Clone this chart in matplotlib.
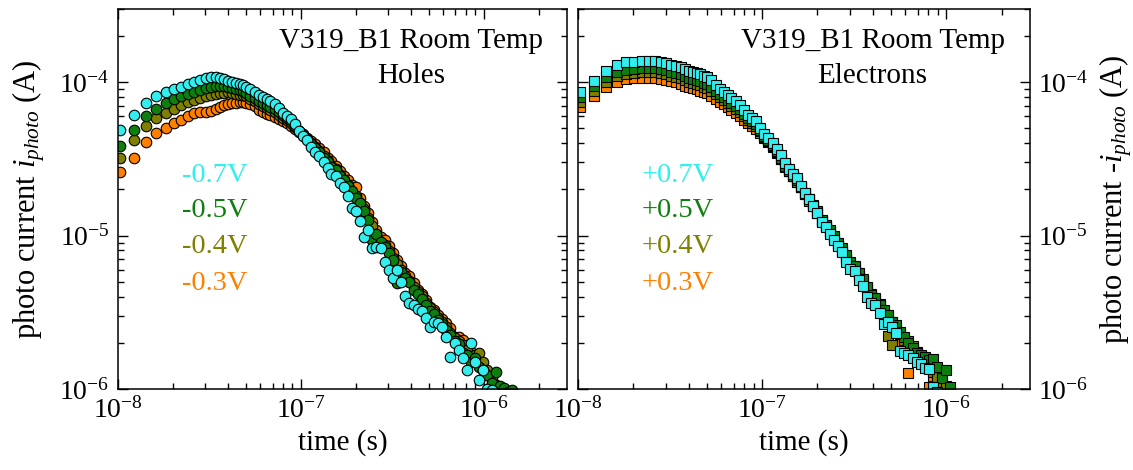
"""Transient photocurrent of V319_B1 at room temperature: holes vs electrons."""

import matplotlib

matplotlib.use("Agg")
import matplotlib.pyplot as plt
import numpy as np
from matplotlib.ticker import FuncFormatter, LogLocator, NullFormatter

plt.rcParams["font.family"] = ["Liberation Serif", "DejaVu Serif"]
plt.rcParams["mathtext.fontset"] = "custom"
plt.rcParams["mathtext.rm"] = "Liberation Serif"
plt.rcParams["mathtext.it"] = "Liberation Serif:italic"
plt.rcParams["axes.unicode_minus"] = False

# sample times (ns), shared by both panels
TIME_NS = [
    10.2, 12.2, 14.2, 16.2, 18.2, 20.2, 22.2, 24.2, 26.2, 28.2,
    30.2, 32.2, 34.2, 36.2, 38.2, 40.2, 42.2, 44.2, 46.2, 48.2,
    50.2, 53, 56, 59, 62, 65, 68, 72, 76, 80,
    84, 88, 93, 98, 103, 108, 114, 120, 126, 133,
    140, 147, 155, 163, 172, 181, 190, 200, 211, 222,
    234, 246, 259, 273, 287, 302, 318, 335, 353, 372,
    392, 413, 435, 458, 482, 508, 535, 563, 593, 624,
    657, 692, 729, 768, 809, 852, 897, 945, 995, 1048,
    1104, 1163, 1225, 1290, 1358, 1430,
]

# photo current (uA), holes, negative bias
HOLES_07 = [
    48.6, 60.8, 72.9, 81.0, 86.0, 90.0, 92.8, 97.0, 100, 103.1,
    106.2, 107.8, 107.8, 106.2, 104.6, 101.5, 100, 98.5, 97.0, 95.6,
    92.8, 90.0, 86.0, 82.2, 79.8, 77.4, 75.1, 71.8, 67.6, 62.7,
    59.9, 57.3, 53.2, 47.8, 44.4, 41.8, 37.6, 34.9, 32.8, 30.0,
    27.6, 25.4, 24.3, 22.1, 20.6, 18.2, 15.2, 14.4, 12.5, 9.85,
    10.9, 8.35, 8.47, 8.35, 6.76, 6.00, 5.31, 6.00, 5.00, 4.05,
    3.65, 3.54, 3.33, 3.22, 2.91, 2.54, 2.74, 2.70, 2.54, 2.19,
    1.62, 2.00, 1.80, 1.59, 1.33, 2.00, 1.50, 1.15, 1.33, 1.00,
    0.99,
]
HOLES_05 = [
    38.2, 48.6, 59.9, 66.6, 72.9, 77.4, 81.0, 83.5, 86.0, 88.6,
    91.4, 92.8, 94.2, 94.2, 94.2, 92.8, 91.4, 90.0, 88.6, 87.3,
    84.8, 81.0, 78.6, 75.1, 72.9, 70.7, 68.6, 66.6, 63.7, 60.8,
    58.2, 55.6, 51.6, 47.8, 45.0, 42.5, 39.3, 37.0, 34.9, 32.3,
    30.0, 28.2, 26.6, 24.6, 22.9, 21.2, 19.4, 17.7, 16.2, 14.4,
    12.7, 9.42, 10.3, 9.14, 8.47, 7.7, 6.97, 4.9, 5.82, 5.31,
    5.0, 4.44, 4.18, 3.88, 3.54, 3.22, 3.1, 2.82, 2.66, 2.43,
    2.25, 2.05, 1.97, 1.72, 1.67, 1.50, 1.59, 1.39, 1.33, 1.23,
    1.09, 1.29, 1.05, 1.02, 0.96, 0.99,
]
HOLES_04 = [
    32.3, 41.8, 51.6, 58.2, 62.7, 66.6, 70.7, 74.0, 76.3, 78.6,
    81.0, 82.2, 83.5, 84.8, 84.8, 86.0, 84.8, 83.5, 82.2, 82.2,
    81.0, 77.4, 75.1, 71.8, 69.7, 67.6, 65.6, 63.7, 60.8, 58.2,
    56.4, 54.0, 50.8, 47.8, 45.0, 42.5, 39.9, 37.6, 35.5, 32.8,
    30.5, 28.6, 27.0, 25.0, 23.2, 21.5, 18.5, 18.2, 16.4, 14.8,
    13.1, 11.6, 10.2, 8.47, 8.73, 7.98, 7.2, 6.55, 6.0, 5.45,
    5.08, 4.64, 4.31, 4.05, 3.65, 3.38, 3.18, 2.91, 2.74, 2.54,
    2.32, 2.14, 2.05, 1.94, 1.80, 1.64, 1.67, 1.72, 1.50, 1.33,
    1.20, 1.06, 0.96,
]
HOLES_03 = [
    25.8, 32.3, 40.5, 46.4, 50.4, 54.4, 56.9, 59.9, 62.7, 63.7,
    63.7, 64.6, 66.6, 68.6, 70.7, 71.8, 72.9, 72.9, 74.0, 74.0,
    72.9, 71.8, 69.7, 65.6, 63.7, 61.8, 60.8, 59.0, 57.3, 55.6,
    54.0, 51.6, 49.3, 47.1, 45.7, 43.1, 41.2, 39.3, 37.0, 34.9,
    32.3, 30.5, 28.6, 26.2, 24.3, 22.9, 21.5, 20.6, 17.7, 15.5,
    14.0, 12.3, 10.9, 9.85, 9.3, 8.6, 7.7, 6.97, 6.3, 5.7,
    5.45, 4.9, 4.44, 4.18, 3.82, 3.44, 3.28, 3.05, 2.86, 2.70,
    2.5, 2.19, 2.19, 2.09, 1.94, 1.74, 1.59, 1.50, 1.37, 1.29,
    1.15, 1.05, 0.96,
]

# minus photo current (uA), electrons, positive bias
ELECTRONS_07 = [
    86.0, 101.5, 118.0, 129.1, 135.1, 135.1, 137.2, 137.2, 137.2, 135.1,
    133.1, 129.1, 127.2, 125.3, 121.6, 118.0, 116.3, 114.5, 112.8, 109.4,
    107.8, 103.1, 95.6, 90.0, 86.0, 82.2, 78.6, 75.1, 70.7, 65.6,
    60.8, 58.2, 55.6, 50.0, 45.7, 43.1, 39.9, 36.5, 33.3, 29.6,
    27.0, 25.4, 23.6, 21.2, 19.1, 17.2, 15.7, 14.0, 12.3, 11.3,
    10.2, 9.42, 8.6, 7.86, 6.76, 6.09, 5.91, 5.16, 4.71, 3.99,
    3.65, 3.54, 3.14, 2.66, 2.74, 2.54, 2.32, 1.77, 1.72, 1.67,
    1.59, 1.50, 1.46, 1.37, 1.35, 1.03, 0.96,
]
ELECTRONS_05 = [
    79.8, 94.2, 107.8, 116.3, 119.8, 121.6, 123.5, 123.5, 123.5, 121.6,
    119.8, 116.3, 114.5, 112.8, 109.4, 106.2, 104.6, 103.1, 101.5, 98.5,
    97.0, 92.8, 87.3, 83.5, 79.8, 76.3, 72.9, 69.7, 66.6, 61.8,
    58.2, 55.6, 53.2, 48.6, 44.4, 41.8, 38.7, 35.5, 32.3, 28.6,
    26.2, 24.6, 22.9, 20.9, 19.1, 17.4, 15.9, 14.4, 12.7, 11.8,
    10.9, 10.0, 9.0, 8.35, 7.51, 6.76, 6.35, 5.73, 5.23, 4.64,
    4.12, 3.93, 3.54, 3.28, 3.05, 2.74, 2.62, 2.36, 2.19, 2.00,
    1.85, 1.72, 1.67, 1.62, 1.55, 1.57, 1.39, 1.18, 1.33, 1.03,
]
ELECTRONS_04 = [
    74.0, 87.3, 100, 109.4, 112.8, 114.5, 116.3, 116.3, 116.3, 114.5,
    112.8, 109.4, 107.8, 106.2, 103.1, 100, 98.5, 97.0, 95.6, 92.8,
    91.4, 87.3, 83.5, 79.8, 76.3, 72.9, 69.7, 66.6, 63.7, 59.9,
    56.4, 54.0, 51.6, 47.8, 43.7, 41.2, 38.2, 34.9, 31.8, 28.6,
    26.2, 24.3, 22.5, 20.6, 18.8, 17.2, 15.5, 14.0, 12.5, 11.5,
    10.5, 9.70, 8.73, 7.98, 7.2, 6.55, 6.18, 5.56, 5.08, 4.57,
    4.18, 3.82, 3.59, 2.91, 2.22, 1.94, 2.43, 2.32, 2.09, 2.05,
    1.91, 1.74, 1.64, 1.50, 1.41, 1.29, 1.20, 1.11, 1.05, 0.96,
]
ELECTRONS_03 = [
    68.6, 81.0, 92.8, 100, 104.6, 106.2, 106.2, 106.2, 106.2, 104.6,
    103.1, 101.5, 100, 97.0, 94.2, 92.8, 91.4, 90.0, 87.3, 86.0,
    84.8, 81.0, 77.4, 74.0, 71.8, 68.6, 65.6, 62.7, 59.9, 56.4,
    54.0, 51.6, 49.3, 46.4, 43.1, 40.5, 37.6, 34.4, 31.4, 28.2,
    26.2, 24.3, 22.5, 20.6, 18.8, 16.9, 15.5, 14.0, 12.5, 11.5,
    10.5, 9.55, 8.73, 7.98, 7.2, 6.55, 6.09, 5.45, 5.0, 4.57,
    4.12, 3.82, 3.49, 3.22, 3.0, 2.74, 2.5, 1.97, 2.14, 1.27,
    1.80, 1.64, 1.55, 1.44, 1.03, 1.22, 1.09, 0.96,
]

BIAS_COLORS = {"0.7": "#33EEEE", "0.5": "#0E7F0E", "0.4": "#808000", "0.3": "#FF8000"}
HOLE_LABELS = ["-0.7V", "-0.5V", "-0.4V", "-0.3V"]
ELECTRON_LABELS = ["+0.7V", "+0.5V", "+0.4V", "+0.3V"]


def _decade_label(value, _pos):
    exponent = int(round(np.log10(value)))
    return rf"$10^{{{exponent}}}$"


def style_axis(axis, label_side):
    axis.set_xscale("log")
    axis.set_yscale("log")
    axis.set_xlim(1e-8, 2.85e-6)
    axis.set_ylim(1e-6, 3e-4)
    for scale in (axis.xaxis, axis.yaxis):
        scale.set_major_locator(LogLocator(base=10, numticks=12))
        scale.set_minor_locator(LogLocator(base=10, subs=np.arange(2, 10), numticks=12))
        scale.set_major_formatter(FuncFormatter(_decade_label))
        scale.set_minor_formatter(NullFormatter())
    axis.tick_params(which="both", direction="in", top=True, bottom=True,
                     left=True, right=True, width=1.0, labelsize=20)
    axis.tick_params(which="major", length=7, pad=6)
    axis.tick_params(which="minor", length=4)
    if label_side == "right":
        axis.tick_params(labelleft=False, labelright=True)
    for spine in axis.spines.values():
        spine.set_linewidth(1.1)


def draw_panel(axis, series, labels, marker, size, title):
    time_s = np.array(TIME_NS) * 1e-9
    # drawn low bias first so the -0.7 / +0.7 markers sit on top
    for values, key in reversed(list(zip(series, ["0.7", "0.5", "0.4", "0.3"]))):
        current = np.array(values) * 1e-6
        axis.plot(time_s[:len(current)], current, linestyle="none", marker=marker,
                  markersize=size, markerfacecolor=BIAS_COLORS[key],
                  markeredgecolor="black", markeredgewidth=0.8)

    axis.text(0.652, 0.897, "V319_B1 Room Temp", transform=axis.transAxes,
              ha="center", va="baseline", fontsize=21)
    axis.text(0.652, 0.805, title, transform=axis.transAxes,
              ha="center", va="baseline", fontsize=21)

    for label, key, y_pos in zip(labels, ["0.7", "0.5", "0.4", "0.3"],
                                 [0.545, 0.453, 0.358, 0.261]):
        axis.text(0.142, y_pos, label, transform=axis.transAxes, ha="left",
                  va="baseline", fontsize=20.5, color=BIAS_COLORS[key])


figure = plt.figure(figsize=(11.33, 4.70), dpi=100)
holes_ax = figure.add_axes([0.1041, 0.1723, 0.3963, 0.8085])
electrons_ax = figure.add_axes([0.5101, 0.1723, 0.3989, 0.8085])

draw_panel(holes_ax, [HOLES_07, HOLES_05, HOLES_04, HOLES_03], HOLE_LABELS,
           "o", 7.6, "Holes")
draw_panel(electrons_ax, [ELECTRONS_07, ELECTRONS_05, ELECTRONS_04, ELECTRONS_03],
           ELECTRON_LABELS, "s", 6.8, "Electrons")

style_axis(holes_ax, "left")
style_axis(electrons_ax, "right")

holes_ax.set_xlabel("time (s)", fontsize=21, labelpad=4)
electrons_ax.set_xlabel("time (s)", fontsize=21, labelpad=4)
holes_ax.set_ylabel(r"photo current $i_{photo}$ (A)", fontsize=22, labelpad=9)
electrons_ax.yaxis.set_label_position("right")
electrons_ax.set_ylabel(r"photo current -$i_{photo}$ (A)", fontsize=22, labelpad=6)

figure.savefig("out.png", dpi=100)
plt.close(figure)
